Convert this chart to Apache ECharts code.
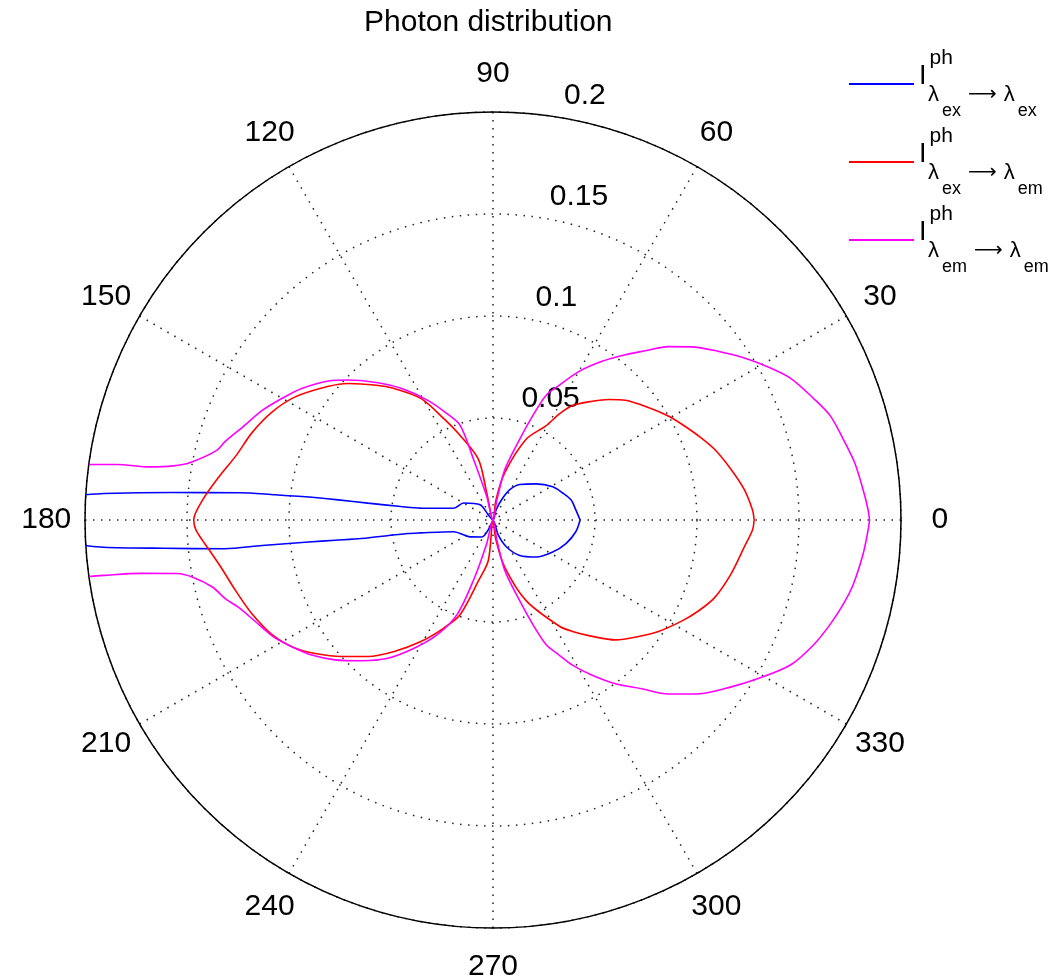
<!DOCTYPE html>
<html>
<head>
<meta charset="utf-8">
<title>Photon distribution</title>
<script src="https://cdn.jsdelivr.net/npm/echarts@6/dist/echarts.min.js"></script>
<style>
  html, body { margin: 0; padding: 0; background: #fff; }
  #chart { width: 1057px; height: 977px; }
</style>
</head>
<body>
<div id="chart"></div>
<script>
// polar grid ticks
const angleTicks = [0, 30, 60, 90, 120, 150, 180, 210, 240, 270, 300, 330]
const radiusTicks = [0.05, 0.1, 0.15, 0.2]

// legend entries: I^ph  lambda_from -> lambda_to
const seriesNames = ['ex-ex', 'ex-em', 'em-em']
const legendFrom = ['ex', 'ex', 'em']
const legendTo = ['ex', 'em', 'em']

// curves, [angle in degrees, radius]; null = curve leaves the plot
const exToEx = [
  [0, 0.0427], [7, 0.0409], [14.5, 0.0395], [21.2, 0.0366], [29, 0.0335], [39.9, 0.0276],
  [53, 0.0218], [61, 0.017], [67, 0.0108], [73, 0.0052], [90, 0],
  [132.6, 0.0034], [130, 0.0098], [150, 0.0166], [163.3, 0.0201], [170.7, 0.0359],
  [171.7, 0.0456], [172.3, 0.0619], [172.6, 0.0765], [173, 0.0944], [173.4, 0.1074],
  [173.85, 0.125], [175.1, 0.1574], [176.1, 0.1912], [176.5, 0.2016],
  null,
  [183.5, 0.2019], [184, 0.1913], [184.9, 0.1623], [186.1, 0.1324], [186.3, 0.1138],
  [186.8, 0.0911], [187.3, 0.0781], [188, 0.0652], [189, 0.0424], [190.1, 0.036],
  [196.7, 0.0201], [216.5, 0.0139], [236.5, 0.00995], [246.3, 0.0036], [270, 0],
  [289.4, 0.0079], [296.6, 0.0148], [307, 0.0218], [319.4, 0.0279], [331.8, 0.0332],
  [342.1, 0.0376], [351.9, 0.041], [360, 0.0427]
]

const exToEm = [
  [0, 0.128], [2.2, 0.1273], [6.9, 0.1241], [12, 0.1193], [17.7, 0.114], [22.4, 0.1087],
  [27, 0.1037], [30.7, 0.0999], [35.9, 0.094], [42.1, 0.0875], [46.1, 0.082], [50.1, 0.0759],
  [55.2, 0.0684], [58, 0.0614], [60.6, 0.0531], [67.6, 0.0429], [76, 0.0239], [81.6, 0.01],
  [90, 0], [103, 0.0136], [103.5, 0.0306], [111.2, 0.0443], [115.9, 0.0552], [120.7, 0.0693],
  [126.9, 0.0806], [131.3, 0.0881], [136.7, 0.0976], [140.9, 0.1039], [148.1, 0.1142],
  [153.9, 0.1205], [160, 0.1256], [166, 0.1299], [170.9, 0.1358], [176, 0.1426], [180, 0.1467],
  [182, 0.1456], [186.1, 0.1398], [189.9, 0.1353], [195.4, 0.1308], [201.4, 0.1267],
  [207.4, 0.122], [213, 0.1155], [216.9, 0.109], [222, 0.1], [227.5, 0.0908], [233.1, 0.0806],
  [239.3, 0.0693], [245.5, 0.0582], [250.9, 0.049], [256.6, 0.0306], [263.4, 0.02], [270, 0],
  [278.4, 0.01], [284, 0.0239], [292.4, 0.0429], [302, 0.0614], [305.5, 0.0671], [310.5, 0.075],
  [315.6, 0.084], [321.3, 0.0914], [326, 0.0978], [331.8, 0.1049], [336, 0.11], [340.7, 0.1151],
  [347.2, 0.1196], [353.9, 0.1239], [357.8, 0.1273], [360, 0.128]
]

const emToEm = [
  [0, 0.1846], [1.6, 0.1839], [4.7, 0.182], [9, 0.1795], [13, 0.1762], [17.2, 0.173],
  [20.8, 0.168], [25.5, 0.1615], [28.7, 0.1551], [32.8, 0.1466], [36.9, 0.1378], [41.1, 0.1291],
  [44.7, 0.1208], [48, 0.1116], [51.3, 0.1038], [55.5, 0.0944], [59.9, 0.0842], [63.8, 0.0737],
  [66.9, 0.0665], [69.1, 0.0549], [71.7, 0.0418], [76.8, 0.0255], [79, 0.0101], [90, 0],
  [105, 0.012], [107.8, 0.0313], [109.1, 0.049], [113.4, 0.0568], [118.7, 0.067], [124.9, 0.0787],
  [130.7, 0.0891], [136, 0.0988], [139.8, 0.1056], [145.5, 0.1138], [150, 0.1193], [154.6, 0.1252],
  [159.7, 0.131], [163.5, 0.1366], [166, 0.14], [169.3, 0.1513], [170.4, 0.159], [171.2, 0.1701],
  [171.6, 0.1863], [172.3, 0.2031],
  null,
  [187.9, 0.2032], [188.1, 0.1927], [188.6, 0.175], [189.6, 0.1574], [190.8, 0.1498],
  [193.5, 0.1413], [196.5, 0.1366], [199.1, 0.1316], [204.1, 0.1257], [208.5, 0.1214],
  [213, 0.1155], [216.7, 0.1108], [221.5, 0.1035], [226.9, 0.0945], [232.7, 0.0852],
  [238.4, 0.0738], [244.1, 0.0625], [249.2, 0.0495], [252, 0.0313], [255, 0.012], [270, 0],
  [281, 0.0101], [283.2, 0.0255], [288.3, 0.0418], [290.9, 0.0549], [293.1, 0.0665],
  [296.1, 0.0737], [298.7, 0.0811], [302.6, 0.0903], [306.8, 0.1002], [311.4, 0.1103],
  [315.2, 0.121], [319.7, 0.1318], [325, 0.1426], [329, 0.1512], [334, 0.1622], [338.7, 0.1686],
  [342.8, 0.173], [346.5, 0.1766], [349.9, 0.1794], [354.8, 0.1822], [358.4, 0.1839], [360, 0.1846]
]

const rMax = 0.2
const rStep = 0.05

// [angle, r] -> [r, angle] as polar series want it
const toPolar = pts => pts.map(p => (p ? [p[1], p[0]] : ['-', '-']))

const chart = echarts.init(document.getElementById('chart'))

const dotted = { color: '#222', width: 1.5, type: [1.5, 6.5] }
const tickFont = { fontSize: 30, color: '#000', opacity: 1, fontFamily: 'Liberation Sans' }

const legendRich = {
  I: { fontSize: 27, lineHeight: 36, padding: [15, 0, 0, 0], verticalAlign: 'top' },
  ph: { fontSize: 21, lineHeight: 36, padding: [0, 0, 0, 3], verticalAlign: 'top' },
  lamA: { fontSize: 22, lineHeight: 36, padding: [0, 0, 0, 9], verticalAlign: 'top' },
  sub: { fontSize: 18, lineHeight: 36, padding: [18, 0, 0, 3], verticalAlign: 'top' },
  arr: { fontSize: 20, lineHeight: 36, padding: [1, 7, 0, 7], verticalAlign: 'top', fontFamily: 'DejaVu Sans' },
  lamB: { fontSize: 22, lineHeight: 36, verticalAlign: 'top' }
}

const makeLine = (name, pts, color) => ({
  name: name,
  type: 'line',
  coordinateSystem: 'polar',
  data: toPolar(pts),
  symbol: 'none',
  showSymbol: false,
  smooth: 0.3,
  connectNulls: false,
  lineStyle: { color: color, width: 1.6 },
  itemStyle: { color: color },
  z: 3
})

const option = {
  animation: false,
  backgroundColor: '#fff',
  textStyle: { fontFamily: 'Liberation Sans' },
  title: {
    text: 'Photon distribution',
    left: 364,
    top: 8,
    padding: 0,
    textStyle: { fontSize: 30, fontWeight: 'normal', color: '#000', fontFamily: 'Liberation Sans' }
  },
  legend: {
    orient: 'vertical',
    left: 849,
    top: 48,
    padding: 0,
    icon: 'rect',
    itemWidth: 65,
    itemHeight: 2,
    itemGap: 6,
    selectedMode: false,
    data: seriesNames,
    formatter: name => {
      const i = seriesNames.indexOf(name)
      return '{I|I}{ph|ph}\n{lamA|λ}{sub|' + legendFrom[i] + '}{arr|⟶}{lamB|λ}{sub|' + legendTo[i] + '}'
    },
    textStyle: { color: '#000', fontFamily: 'Liberation Sans', rich: legendRich }
  },
  polar: { center: [493, 520], radius: 408 },
  angleAxis: {
    type: 'value',
    min: 0,
    max: 360,
    interval: 30,
    startAngle: 0,
    clockwise: false,
    axisLine: { lineStyle: { color: '#000', width: 1.5 } },
    axisTick: { show: false },
    axisLabel: { show: false },
    splitLine: { show: true, lineStyle: dotted }
  },
  radiusAxis: {
    type: 'value',
    min: 0,
    max: rMax,
    interval: rStep,
    axisLine: { show: false },
    axisTick: { show: false },
    axisLabel: { show: false },
    splitLine: { show: true, lineStyle: dotted }
  },
  series: [
    makeLine(seriesNames[0], exToEx, '#0000ff'),
    makeLine(seriesNames[1], exToEm, '#ff0000'),
    makeLine(seriesNames[2], emToEm, '#ff00ff'),
    {
      // angle labels, centred just outside the rim
      type: 'scatter',
      coordinateSystem: 'polar',
      clip: false,
      silent: true,
      symbolSize: 1,
      itemStyle: { color: '#fff', opacity: 0 },
      data: angleTicks.map(a => ({ value: [rMax * 1.095, a], name: String(a) })),
      label: { show: true, position: 'inside', formatter: '{b}', textBorderWidth: 0, ...tickFont }
    },
    {
      // ring labels, at 82 degrees just outside each ring
      type: 'scatter',
      coordinateSystem: 'polar',
      clip: false,
      silent: true,
      symbolSize: 1,
      itemStyle: { color: '#fff', opacity: 0 },
      data: radiusTicks.map(v => ({ value: [v + rStep / 20, 82], name: String(v) })),
      label: {
        show: true,
        position: [0, 0],
        align: 'left',
        verticalAlign: 'bottom',
        padding: [0, 0, 0, 14],
        formatter: '{b}',
        textBorderWidth: 0,
        ...tickFont
      }
    }
  ]
}

chart.setOption(option)
</script>
</body>
</html>
